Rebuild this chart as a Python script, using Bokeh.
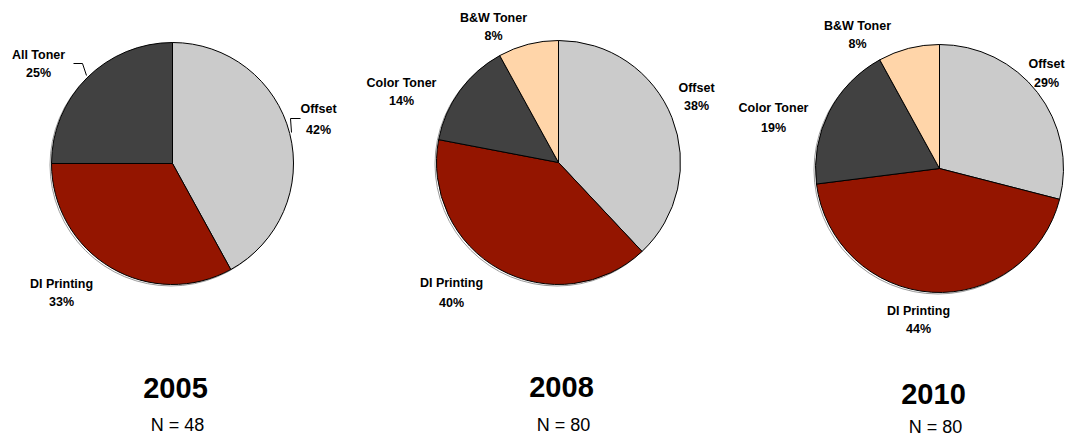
import math
from bokeh.plotting import figure
from bokeh.models import Range1d
from bokeh.core.properties import value
from bokeh.embed import file_html
from bokeh.resources import INLINE

# ---------------- data ----------------
years = ["2005", "2008", "2010"]
sample_sizes = [48, 80, 80]

cats_2005 = ["Offset", "DI Printing", "All Toner"]
vals_2005 = [42, 33, 25]

cats_2008 = ["Offset", "DI Printing", "Color Toner", "B&W Toner"]
vals_2008 = [38, 40, 14, 8]

cats_2010 = ["Offset", "DI Printing", "Color Toner", "B&W Toner"]
vals_2010 = [29, 44, 19, 8]

colors = {
    "Offset": "#CBCBCB",
    "DI Printing": "#941500",
    "All Toner": "#414141",
    "Color Toner": "#414141",
    "B&W Toner": "#FFD5A9",
}

# ---------------- layout (page pixel coordinates) ----------------
W, H = 1071, 437


def X(px):
    return px


def Y(py):
    return H - py


pies = [
    dict(cats=cats_2005, vals=vals_2005, cx=172, cy=163, r=121,
         labels={"Offset": (318, 108, 129), "DI Printing": (61, 283, 301),
                 "All Toner": (38, 54, 72)},
         title=(175, 387, 424)),
    dict(cats=cats_2008, vals=vals_2008, cx=558, cy=162, r=122,
         labels={"Offset": (696, 87, 105), "DI Printing": (451, 282, 302),
                 "Color Toner": (401, 82, 100), "B&W Toner": (493, 17, 35)},
         title=(561, 386, 424)),
    dict(cats=cats_2010, vals=vals_2010, cx=939, cy=168, r=124,
         labels={"Offset": (1046, 63, 82), "DI Printing": (918, 310, 328),
                 "Color Toner": (773, 107, 127), "B&W Toner": (857, 25, 43)},
         title=(933, 393, 426)),
]

p = figure(width=W, height=H, output_backend="svg", toolbar_location=None,
           x_range=Range1d(0, W), y_range=Range1d(0, H), min_border=0)
p.axis.visible = False
p.grid.visible = False
p.outline_line_color = None
p.background_fill_color = "white"

FONT = value("Liberation Sans")

for idx, pie in enumerate(pies):
    total = sum(pie["vals"])
    cum = 0.0
    # faint offset rim, imitating the slight 3-D edge of the original
    p.circle(x=[X(pie["cx"]) - 1.5], y=[Y(pie["cy"]) - 1.5], radius=pie["r"],
             fill_color=None, line_color="#9a9a9a", line_width=1)
    for c, v in zip(pie["cats"], pie["vals"]):
        a0 = math.pi / 2 - 2 * math.pi * cum / total
        cum += v
        a1 = math.pi / 2 - 2 * math.pi * cum / total
        p.wedge(x=[X(pie["cx"])], y=[Y(pie["cy"])], radius=pie["r"],
                start_angle=[a1], end_angle=[a0],
                fill_color=colors[c], line_color="black", line_width=1)
        lx, ly1, ly2 = pie["labels"][c]
        p.text(x=[X(lx)], y=[Y(ly1)], text=[c], text_align="center",
               text_baseline="middle", text_font=FONT, text_font_style="bold",
               text_font_size="12.5px", text_color="black")
        p.text(x=[X(lx)], y=[Y(ly2)], text=[f"{v}%"], text_align="center",
               text_baseline="middle", text_font=FONT, text_font_style="bold",
               text_font_size="12.5px", text_color="black")
    tx, ty1, ty2 = pie["title"]
    p.text(x=[X(tx)], y=[Y(ty1)], text=[years[idx]], text_align="center",
           text_baseline="middle", text_font=FONT, text_font_style="bold",
           text_font_size="29px", text_color="black")
    p.text(x=[X(tx + 2)], y=[Y(ty2)], text=[f"N = {sample_sizes[idx]}"],
           text_align="center", text_baseline="middle", text_font=FONT,
           text_font_size="18px", text_color="black")

# leader lines (2005 chart)
p.line(x=[X(300), X(290), X(291)], y=[Y(118), Y(118), Y(132)],
       line_color="black", line_width=1)
p.line(x=[X(73), X(82), X(86)], y=[Y(63), Y(63), Y(75)],
       line_color="black", line_width=1)

open("out.html", "w").write(file_html(p, INLINE))
